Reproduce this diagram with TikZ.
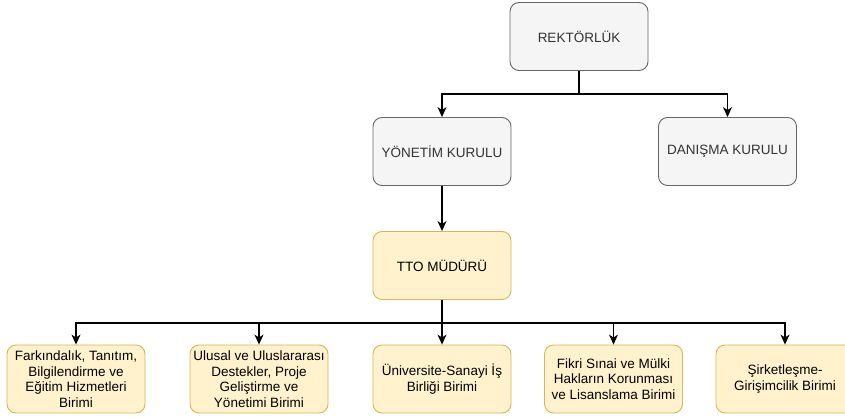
\documentclass[tikz,border=0pt]{standalone}
\usepackage{fontspec}
\setmainfont{Liberation Sans}
\usetikzlibrary{arrows.meta}
\definecolor{grayfill}{HTML}{F5F5F5}
\definecolor{grayline}{HTML}{666666}
\definecolor{graytext}{HTML}{333333}
\definecolor{yelfill}{HTML}{FFF2CC}
\definecolor{yelline}{HTML}{D6B656}
\begin{document}
\begin{tikzpicture}[x=1pt,y=-1pt,
  box/.style={rounded corners=9pt, minimum width=138pt, minimum height=68pt, inner xsep=0pt, inner ysep=2pt,
    align=center, font=\fontsize{13.5}{15.5}\selectfont, line width=0.9pt},
  graybox/.style={box, fill=grayfill, draw=grayline, text=graytext},
  yelbox/.style={box, fill=yelfill, draw=yelline, text=black},
  arr/.style={draw=black, line width=1.2pt, -{Stealth[length=10pt,width=9pt,inset=3pt]}},
  ln/.style={draw=black, line width=1.2pt}]
\useasboundingbox (0,0) rectangle (845,417);
\clip (0,0) rectangle (845,417);
\node[graybox] (rek) at (579,36.5) {REKTÖRLÜK};
\node[graybox] (yon) at (442,151.5) {YÖNETİM KURULU};
\node[graybox] (dan) at (727.5,151.5) {DANIŞMA KURULU};
\node[yelbox] (tto) at (442,265.5) {TTO MÜDÜRÜ};
\node[yelbox] (b1) at (76,379) {Farkındalık, Tanıtım,\\Bilgilendirme ve\\Eğitim Hizmetleri\\Birimi};
\node[yelbox] (b2) at (259,379) {Ulusal ve Uluslararası\\Destekler, Proje\\Geliştirme ve\\Yönetimi Birimi};
\node[yelbox] (b3) at (442,379) {Üniversite-Sanayi İş\\Birliği Birimi};
\node[yelbox] (b4) at (613.5,379) {Fikri Sınai ve Mülki\\Hakların Korunması\\ve Lisanslama Birimi};
\node[yelbox] (b5) at (785,379) {Şirketleşme-\\Girişimcilik Birimi};
\coordinate (j1) at (579,94);
\coordinate (j2) at (442,323);
\draw[ln] (rek.south) -- (j1);
\draw[arr] (j1) -| (yon.north);
\draw[arr] (j1) -| (dan.north);
\draw[arr] (yon.south) -- (tto.north);
\draw[ln] (tto.south) -- (j2);
\foreach \b in {b1,b2,b3,b4,b5}{
  \draw[arr] (j2) -| (\b.north);
}
\end{tikzpicture}
\end{document}
